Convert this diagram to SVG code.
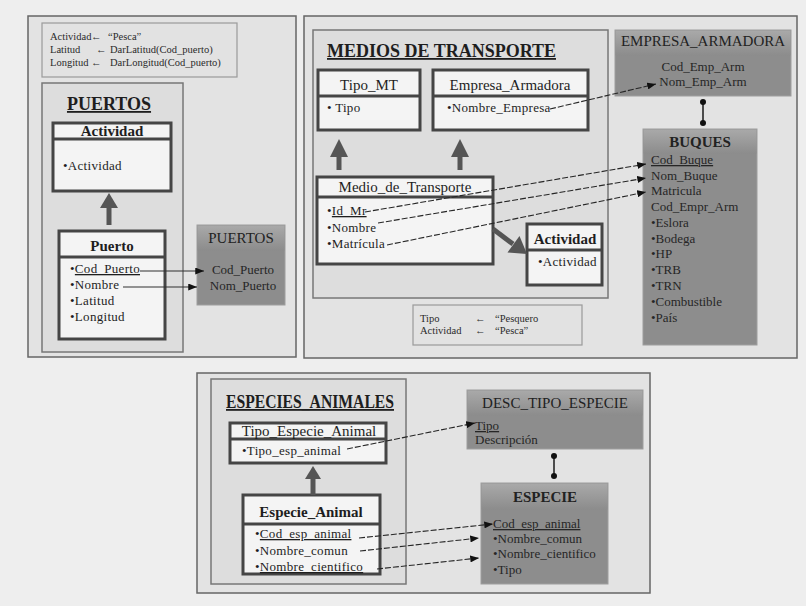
<svg xmlns="http://www.w3.org/2000/svg" width="806" height="606" viewBox="0 0 806 606" font-family="'Liberation Serif', 'DejaVu Serif', serif">
  <defs>
    <linearGradient id="thead" x1="0" y1="0" x2="0" y2="1">
      <stop offset="0" stop-color="#a9a9a9"/>
      <stop offset="1" stop-color="#8c8c8c"/>
    </linearGradient>
    <marker id="tip" viewBox="0 0 10 8" refX="10" refY="4" markerWidth="9" markerHeight="7" markerUnits="userSpaceOnUse" orient="auto">
      <path d="M0,0 L10,4 L0,8 Z" fill="#111"/>
    </marker>
  </defs>
  <style>
    text { font-family: 'Liberation Serif', 'DejaVu Serif', serif; fill: #1e1e1e; }
    .panel { fill: #e3e3e3; stroke: #666; stroke-width: 1.5; }
    .inner { fill: #dddddd; stroke: #777; stroke-width: 1.5; }
    .note { fill: #e2e2e2; stroke: #9a9a9a; stroke-width: 1.2; }
    .notetxt { font-size: 10.5px; fill: #2a2a2a; }
    .title { font-size: 18px; font-weight: bold; text-decoration: underline; }
    .cls { fill: #f4f4f4; stroke: #454545; stroke-width: 3; }
    .div { stroke: #454545; stroke-width: 3; }
    .chead { font-size: 15px; text-anchor: middle; }
    .b { font-weight: bold; }
    .item { font-size: 13px; letter-spacing: 0.3px; }
    .tbl { fill: #8d8d8d; stroke: #9e9e9e; stroke-width: 1; }
    .thd { fill: url(#thead); }
    .ttitle { font-size: 15px; text-anchor: middle; fill: #222; }
    .titem { font-size: 13px; fill: #262626; }
    .u { text-decoration: underline; }
    .gen { fill: #555; }
    .genline { stroke: #555; stroke-width: 5; }
    .link { stroke: #262626; stroke-width: 1.1; stroke-dasharray: 6 2; fill: none; marker-end: url(#tip); }
    .solid { stroke: #303030; stroke-width: 1.2; fill: none; marker-end: url(#tip); }
    .rel { stroke: #1a1a1a; stroke-width: 1.5; }
    .dot { fill: #111; }
  </style>

  <rect x="0" y="0" width="806" height="606" fill="#eeeeee"/>

  <!-- ===== Panel: PUERTOS ===== -->
  <g id="panel-puertos">
    <rect class="panel" x="28" y="16" width="268" height="341"/>
    <rect class="note" x="42" y="23" width="195" height="54"/>
    <text class="notetxt" x="50" y="40">Actividad</text>
    <text class="notetxt" x="91" y="40">←</text>
    <text class="notetxt" x="108" y="40">“Pesca”</text>
    <text class="notetxt" x="50" y="53">Latitud</text>
    <text class="notetxt" x="96" y="53">←</text>
    <text class="notetxt" x="110" y="53">DarLatitud(Cod_puerto)</text>
    <text class="notetxt" x="50" y="66">Longitud</text>
    <text class="notetxt" x="91" y="66">←</text>
    <text class="notetxt" x="110" y="66">DarLongitud(Cod_puerto)</text>
    <rect class="inner" x="42" y="83" width="141" height="269"/>
    <text class="title" x="109" y="110" text-anchor="middle">PUERTOS</text>
  </g>

  <g id="cls-actividad-p">
    <rect class="cls" x="53" y="123" width="118" height="68"/>
    <line class="div" x1="53" y1="139" x2="171" y2="139"/>
    <text class="chead b" x="112" y="136">Actividad</text>
    <text class="item" x="63" y="170">•Actividad</text>
  </g>

  <g id="cls-puerto">
    <rect class="cls" x="59" y="231" width="106" height="108"/>
    <line class="div" x1="59" y1="257" x2="165" y2="257"/>
    <text class="chead b" x="112" y="251">Puerto</text>
    <text class="item" x="70" y="273">•<tspan class="u">Cod_Puerto</tspan></text>
    <text class="item" x="70" y="289">•Nombre</text>
    <text class="item" x="70" y="305">•Latitud</text>
    <text class="item" x="70" y="321">•Longitud</text>
  </g>

  <g id="tbl-puertos">
    <rect class="tbl" x="197" y="225" width="88" height="80"/>
    <rect class="thd" x="197.5" y="225.5" width="87" height="25"/>
    <text class="ttitle" x="241" y="243">PUERTOS</text>
    <text class="titem" x="243" y="274" text-anchor="middle">Cod_Puerto</text>
    <text class="titem" x="243" y="290" text-anchor="middle">Nom_Puerto</text>
  </g>

  <!-- ===== Panel: MEDIOS DE TRANSPORTE ===== -->
  <g id="panel-medios">
    <rect class="panel" x="304" y="16" width="493" height="342"/>
    <rect class="inner" x="313" y="30" width="295" height="268"/>
    <text class="title" x="327" y="57" textLength="229" lengthAdjust="spacingAndGlyphs">MEDIOS DE TRANSPORTE</text>
    <rect class="note" x="413" y="305" width="169" height="40"/>
    <text class="notetxt" x="420" y="322">Tipo</text>
    <text class="notetxt" x="475" y="322">←</text>
    <text class="notetxt" x="495" y="322">“Pesquero</text>
    <text class="notetxt" x="420" y="334">Actividad</text>
    <text class="notetxt" x="475" y="334">←</text>
    <text class="notetxt" x="495" y="334">“Pesca”</text>
  </g>

  <g id="cls-tipo-mt">
    <rect class="cls" x="318" y="70" width="102" height="60"/>
    <line class="div" x1="318" y1="96" x2="420" y2="96"/>
    <text class="chead" x="369" y="90" font-size="15.5">Tipo_MT</text>
    <text class="item" x="327" y="112">• Tipo</text>
  </g>

  <g id="cls-empresa-armadora">
    <rect class="cls" x="433" y="70" width="155" height="60"/>
    <line class="div" x1="433" y1="96" x2="588" y2="96"/>
    <text class="chead" x="510" y="90" font-size="16">Empresa_Armadora</text>
    <text class="item" x="447" y="112" font-size="12.5">•Nombre_Empresa</text>
  </g>

  <g id="cls-medio-transporte">
    <rect class="cls" x="317" y="177" width="176" height="87"/>
    <line class="div" x1="317" y1="197" x2="493" y2="197"/>
    <text class="chead" x="405" y="192" font-size="16.5">Medio_de_Transporte</text>
    <text class="item" x="327" y="215">•<tspan class="u">Id_Mr</tspan></text>
    <text class="item" x="327" y="232">•Nombre</text>
    <text class="item" x="327" y="248">•Matrícula</text>
  </g>

  <g id="cls-actividad-m">
    <rect class="cls" x="527" y="224" width="75" height="61"/>
    <line class="div" x1="527" y1="250" x2="602" y2="250"/>
    <text class="chead b" x="565" y="244">Actividad</text>
    <text class="item" x="538" y="266">•Actividad</text>
  </g>

  <g id="tbl-empresa-armadora">
    <rect class="tbl" x="615" y="30" width="176" height="66"/>
    <rect class="thd" x="615.5" y="30.5" width="175" height="25"/>
    <text class="ttitle" x="703" y="46" font-size="15.5">EMPRESA_ARMADORA</text>
    <text class="titem" x="703" y="71" text-anchor="middle">Cod_Emp_Arm</text>
    <text class="titem" x="703" y="86" text-anchor="middle">Nom_Emp_Arm</text>
  </g>

  <g id="tbl-buques">
    <rect class="tbl" x="643" y="129" width="114" height="216"/>
    <rect class="thd" x="643.5" y="129.5" width="113" height="24"/>
    <text class="ttitle b" x="700" y="147">BUQUES</text>
    <text class="titem u" x="651" y="164">Cod_Buque</text>
    <text class="titem" x="651" y="180">Nom_Buque</text>
    <text class="titem" x="651" y="195">Matricula</text>
    <text class="titem" x="651" y="211">Cod_Empr_Arm</text>
    <text class="titem" x="651" y="227">•Eslora</text>
    <text class="titem" x="651" y="243">•Bodega</text>
    <text class="titem" x="651" y="258">•HP</text>
    <text class="titem" x="651" y="274">•TRB</text>
    <text class="titem" x="651" y="290">•TRN</text>
    <text class="titem" x="651" y="306">•Combustible</text>
    <text class="titem" x="651" y="322">•País</text>
  </g>

  <!-- ===== Panel: ESPECIES ANIMALES ===== -->
  <g id="panel-especies">
    <rect class="panel" x="197" y="373" width="453" height="220"/>
    <rect class="inner" x="211" y="379" width="195" height="205"/>
    <text class="title" x="226" y="408" font-size="16" textLength="168" lengthAdjust="spacingAndGlyphs">ESPECIES_ANIMALES</text>
  </g>

  <g id="cls-tipo-especie-animal">
    <rect class="cls" x="230" y="423" width="156" height="40"/>
    <line class="div" x1="230" y1="439" x2="386" y2="439"/>
    <text class="chead" x="309" y="436" font-size="16.5">Tipo_Especie_Animal</text>
    <text class="item" x="242" y="455" font-size="12.5">•Tipo_esp_animal</text>
  </g>

  <g id="cls-especie-animal">
    <rect class="cls" x="243" y="495" width="137" height="79"/>
    <line class="div" x1="243" y1="524" x2="380" y2="524"/>
    <text class="chead b" x="311" y="517">Especie_Animal</text>
    <text class="item" x="255" y="538" font-size="12.5">•<tspan class="u">Cod_esp_animal</tspan></text>
    <text class="item" x="255" y="555" font-size="12.5">•Nombre_comun</text>
    <text class="item" x="255" y="571" font-size="12.5">•<tspan class="u">Nombre_cientifico</tspan></text>
  </g>

  <g id="tbl-desc-tipo-especie">
    <rect class="tbl" x="467" y="390" width="176" height="59"/>
    <rect class="thd" x="467.5" y="390.5" width="175" height="25"/>
    <text class="ttitle" x="555" y="408" font-size="16.5">DESC_TIPO_ESPECIE</text>
    <text class="titem u" x="475" y="430">Tipo</text>
    <text class="titem" x="475" y="444">Descripción</text>
  </g>

  <g id="tbl-especie">
    <rect class="tbl" x="481" y="483" width="127" height="101"/>
    <rect class="thd" x="481.5" y="483.5" width="126" height="26"/>
    <text class="ttitle b" x="545" y="502">ESPECIE</text>
    <text class="titem u" x="493" y="528">Cod_esp_animal</text>
    <text class="titem" x="493" y="543">•Nombre_comun</text>
    <text class="titem" x="493" y="558">•Nombre_cientifico</text>
    <text class="titem" x="493" y="574">•Tipo</text>
  </g>

  <!-- ===== Connectors ===== -->
  <g id="connectors">
    <!-- generalisation arrows -->
    <line class="genline" x1="109" y1="225" x2="109" y2="204"/>
    <polygon class="gen" points="109,193 100,208 118,208"/>
    <line class="genline" x1="339" y1="170" x2="339" y2="154"/>
    <polygon class="gen" points="339,139 330,157 348,157"/>
    <line class="genline" x1="460" y1="170" x2="460" y2="154"/>
    <polygon class="gen" points="460,139 451,157 469,157"/>
    <line class="genline" x1="313" y1="495" x2="313" y2="475"/>
    <polygon class="gen" points="313,466 305,479 321,479"/>
    <line class="genline" x1="493" y1="229" x2="513" y2="244"/>
    <polygon class="gen" points="527,254 507.5,252.5 519.5,236"/>

    <!-- attribute to column mappings -->
    <line class="solid" x1="140" y1="271" x2="204" y2="271"/>
    <line class="solid" x1="123" y1="287" x2="197" y2="287"/>
    <line class="link" x1="550" y1="109" x2="656" y2="84"/>
    <line class="link" x1="365" y1="212" x2="646" y2="164"/>
    <line class="link" x1="378" y1="223" x2="646" y2="178"/>
    <line class="link" x1="387" y1="245" x2="646" y2="192"/>
    <line class="link" x1="347" y1="449" x2="475" y2="423"/>
    <line class="link" x1="359" y1="538" x2="493" y2="524"/>
    <line class="link" x1="360" y1="551" x2="479" y2="538"/>
    <line class="link" x1="377" y1="569" x2="479" y2="558"/>

    <!-- table relationships -->
    <line class="rel" x1="703" y1="102" x2="703" y2="123"/>
    <circle class="dot" cx="703" cy="102" r="3"/>
    <circle class="dot" cx="703" cy="123" r="3"/>
    <line class="rel" x1="554" y1="456" x2="554" y2="476"/>
    <circle class="dot" cx="554" cy="456" r="3"/>
    <circle class="dot" cx="554" cy="476" r="3"/>
  </g>
</svg>
